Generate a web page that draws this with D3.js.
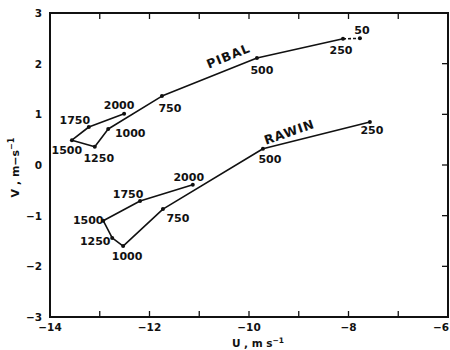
<!DOCTYPE html>
<html>
<head>
<meta charset="utf-8">
<script src="https://cdn.jsdelivr.net/npm/d3@7"></script>
<style>
  body { margin: 0; background: #fff; }
  text { font-family: "DejaVu Sans", sans-serif; fill: #111; }
</style>
</head>
<body>
<div id="chart"></div>
<script>
// pressure-level labels along each hodograph (surface end first)
const pibalLevels = ["2000", "1750", "1500", "1250", "1000", "750", "500", "250", "50"];
const pibalU = [-12.51, -13.22, -13.56, -13.10, -12.83, -11.75, -9.84, -8.11, -7.77];
const pibalV = [1.01, 0.75, 0.49, 0.36, 0.71, 1.36, 2.11, 2.49, 2.50];

const rawinLevels = ["2000", "1750", "1500", "1250", "1000", "750", "500", "250"];
const rawinU = [-11.13, -12.19, -12.93, -12.75, -12.53, -11.73, -9.72, -7.57];
const rawinV = [-0.39, -0.71, -1.10, -1.44, -1.60, -0.87, 0.32, 0.85];

const xTicks = [-14, -12, -10, -8, -6];
const yTicks = [3, 2, 1, 0, -1, -2, -3];

// label offsets (px) from each point, keyed by level
const pibalOff = {
  "2000": [-5, -9], "1750": [-14, -7], "1500": [-5, 10], "1250": [4, 11],
  "1000": [22, 4], "750": [8, 12], "500": [5, 12], "250": [-2, 11], "50": [2, -8]
};
const rawinOff = {
  "2000": [-4, -8], "1750": [-12, -7], "1500": [-15, -1], "1250": [-17, 3],
  "1000": [4, 10], "750": [15, 9], "500": [7, 10], "250": [2, 8]
};

const width = 450, height = 350;
const margin = { top: 13, right: 2, bottom: 33, left: 50 };

const svg = d3.select("#chart").append("svg")
  .attr("width", width)
  .attr("height", height);

const x = d3.scaleLinear().domain([-14, -6]).range([margin.left, width - margin.right]);
const y = d3.scaleLinear().domain([-3, 3]).range([height - margin.bottom, margin.top]);

const minorX = d3.range(-14, -5, 1);
const minorY = d3.range(-3, 4, 1);

// frame ticks (inward)
const g = svg.append("g");
g.selectAll(".tb").data(minorX.slice(1, -1)).join("line")
  .attr("x1", d => x(d)).attr("x2", d => x(d))
  .attr("y1", y(-3)).attr("y2", y(-3) - 6)
  .attr("stroke", "#111").attr("stroke-width", 1.3);
g.selectAll(".tt").data(minorX.slice(1, -1)).join("line")
  .attr("x1", d => x(d)).attr("x2", d => x(d))
  .attr("y1", y(3)).attr("y2", y(3) + 6)
  .attr("stroke", "#111").attr("stroke-width", 1.3);
g.selectAll(".tr").data(minorY.slice(1, -1)).join("line")
  .attr("x1", x(-6)).attr("x2", x(-6) - 6)
  .attr("y1", d => y(d)).attr("y2", d => y(d))
  .attr("stroke", "#111").attr("stroke-width", 1.3);

// frame
svg.append("rect")
  .attr("x", x(-14)).attr("y", y(3))
  .attr("width", x(-6) - x(-14)).attr("height", y(-3) - y(3))
  .attr("fill", "none").attr("stroke", "#111").attr("stroke-width", 2);

// tick labels
svg.selectAll(".xl").data(xTicks).join("text")
  .attr("x", d => Math.min(x(d), width - 9)).attr("y", y(-3) + 14)
  .attr("text-anchor", "middle")
  .style("font-size", "10.5px").style("font-weight", "bold")
  .text(d => d3.format("d")(d).replace("-", "\u2212"));
svg.selectAll(".yl").data(yTicks).join("text")
  .attr("x", x(-14) - 8).attr("y", d => y(d) + 4)
  .attr("text-anchor", "end")
  .style("font-size", "10.5px").style("font-weight", "bold")
  .text(d => d3.format("d")(d).replace("-", "\u2212"));

// axis titles
const xt = svg.append("text")
  .attr("x", 258).attr("y", 347)
  .attr("text-anchor", "middle")
  .style("font-size", "10.5px").style("font-weight", "bold");
xt.append("tspan").text("U , m  s");
xt.append("tspan").attr("dy", -4).style("font-size", "7.5px").text("\u22121");

const yt = svg.append("text")
  .attr("transform", `translate(19, ${y(-0.05)}) rotate(-90)`)
  .attr("text-anchor", "middle")
  .style("font-size", "11px").style("font-weight", "bold");
yt.append("tspan").text("V ,  m\u2212s");
yt.append("tspan").attr("dy", -5).style("font-size", "8px").text("\u22121");

const line = d3.line().x(d => x(d[0])).y(d => y(d[1]));

function drawSeries(us, vs, levels, off, dashLast) {
  const pts = us.map((u, i) => [u, vs[i]]);
  const solid = dashLast ? pts.slice(0, -1) : pts;
  svg.append("path").datum(solid)
    .attr("d", line).attr("fill", "none")
    .attr("stroke", "#111").attr("stroke-width", 1.6)
    .attr("stroke-linejoin", "round");
  if (dashLast) {
    svg.append("path").datum(pts.slice(-2))
      .attr("d", line).attr("fill", "none")
      .attr("stroke", "#111").attr("stroke-width", 1.6)
      .attr("stroke-dasharray", "3,2");
  }
  svg.append("g").selectAll("circle").data(pts).join("circle")
    .attr("cx", d => x(d[0])).attr("cy", d => y(d[1]))
    .attr("r", 2).attr("fill", "#111");
  svg.append("g").selectAll("text").data(pts).join("text")
    .attr("x", (d, i) => x(d[0]) + off[levels[i]][0])
    .attr("y", (d, i) => y(d[1]) + off[levels[i]][1] + 4)
    .attr("text-anchor", "middle")
    .style("font-size", "11px").style("font-weight", "bold")
    .text((d, i) => levels[i]);
}

drawSeries(pibalU, pibalV, pibalLevels, pibalOff, true);
drawSeries(rawinU, rawinV, rawinLevels, rawinOff, false);

// series names
svg.append("text")
  .attr("transform", `translate(${x(-10.38)}, ${y(2.15) + 4}) rotate(-22)`)
  .attr("text-anchor", "middle")
  .style("font-size", "12.5px").style("font-weight", "bold")
  .style("letter-spacing", "1px")
  .text("PIBAL");
svg.append("text")
  .attr("transform", `translate(${x(-9.16)}, ${y(0.65) + 4}) rotate(-19)`)
  .attr("text-anchor", "middle")
  .style("font-size", "12.5px").style("font-weight", "bold")
  .style("letter-spacing", "1px")
  .text("RAWIN");
</script>
</body>
</html>
